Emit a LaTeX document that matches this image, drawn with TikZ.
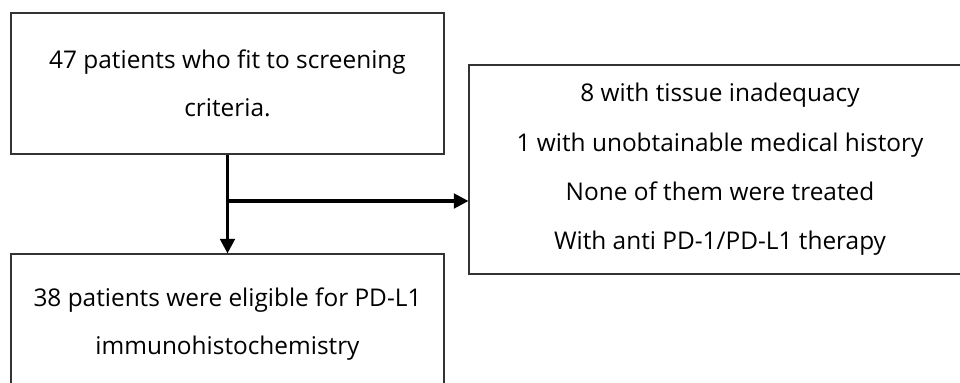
\documentclass[tikz,border=0pt]{standalone}
\usepackage{fontspec}
\setmainfont{Open Sans}
\usetikzlibrary{arrows.meta}
\def\flow{\draw[line width=2.3pt,-{Triangle[length=11pt,width=11pt]}]}
\tikzset{box/.style={draw=black!80,line width=0.8pt,align=center,inner sep=0pt,
  font=\fontsize{18.3}{36}\selectfont}}

\begin{document}
\begin{tikzpicture}[x=0.75pt,y=-0.75pt]
                \useasboundingbox (0,0) rectangle (960,382);
                \clip (0,0) rectangle (960,382);
                \node[box,minimum width=324.75pt,minimum height=105.75pt] (screen) at (227.5,83.5)
                    {47 patients who fit to screening\\criteria.};
                \node[box,minimum width=376.5pt,minimum height=156.75pt,
                      font=\fontsize{18.3}{37}\selectfont] (excl) at (720,169.5)
                    {8 with tissue inadequacy\\1 with unobtainable medical history\\None of them were treated\\With anti PD-1/PD-L1 therapy};
                \node[box,minimum width=324.75pt,minimum height=105.75pt] (elig) at (227.5,324.5)
                    {38 patients were eligible for PD-L1\\immunohistochemistry};
                \coordinate (split) at (227.5,201);
                \flow (screen.south) -- (elig.north);
                \flow (split) -- (split -| excl.west);
            \end{tikzpicture}
\end{document}
